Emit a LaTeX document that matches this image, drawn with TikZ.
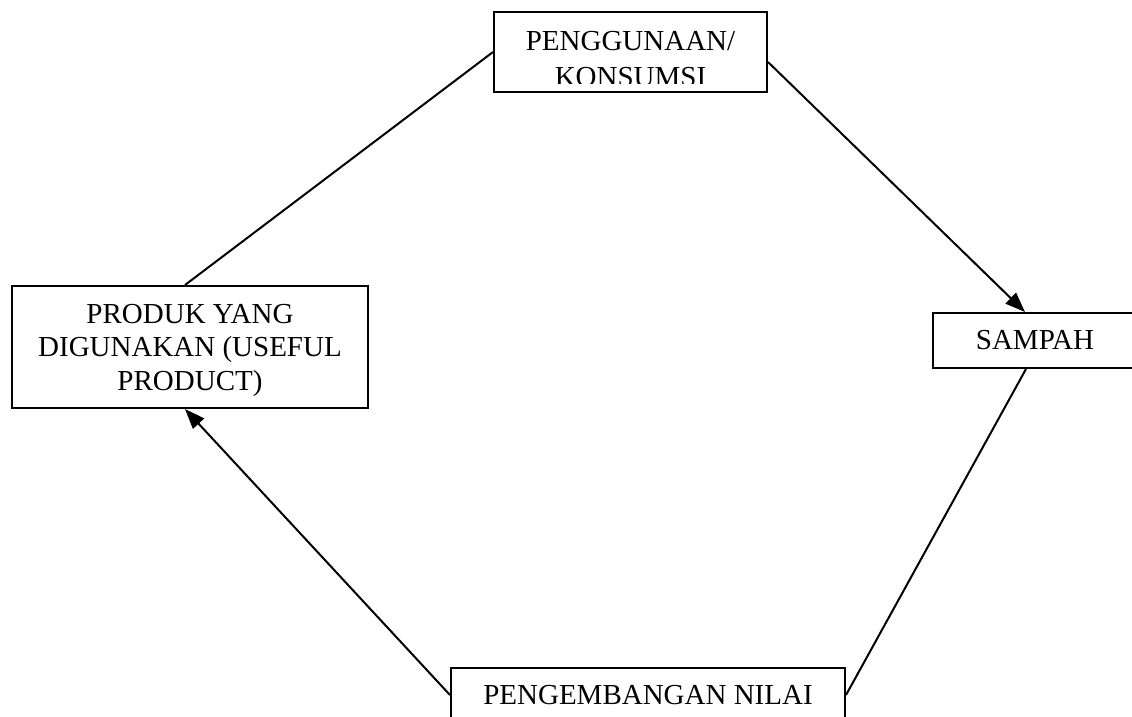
\documentclass[tikz,border=0pt]{standalone}
\usepackage{fontspec}
\setmainfont{Liberation Serif}
\usetikzlibrary{arrows.meta}
\begin{document}
\begin{tikzpicture}[x=1pt,y=-1pt,
  box/.style={draw, line width=2pt, rectangle, inner sep=0pt, align=center,
    font=\fontsize{29}{33.5}\selectfont},
  lbl/.style={inner sep=0pt, font=\fontsize{29}{33.5}\selectfont},
  conn/.style={line width=2pt},
  arr/.style={line width=2pt, -{Triangle[length=20pt,width=15pt]}}]
\useasboundingbox (0,0) rectangle (1132,716);
\clip (0,0) rectangle (1132,716);
% top box (text clipped inside)
\begin{scope}
\clip (494,12) rectangle (767,83);
\node[lbl, anchor=base] (toptext1) at (630.5,50) {PENGGUNAAN/};
\node[lbl, anchor=base] (toptext2) at (630.5,86.5) {KONSUMSI};
\end{scope}
\node[box, minimum width=273pt, minimum height=80pt] (top) at (630.5,52) {};
% left box
\node[box, minimum width=356pt, minimum height=122pt] (left) at (190,347) {};
\node[lbl, align=center] (lefttext) at ([yshift=-3pt]left.center)
  {PRODUK YANG\\DIGUNAKAN (USEFUL\\PRODUCT)};
% right box
\node[box, minimum width=204pt, minimum height=55pt] (sampah) at (1035,340.5) {SAMPAH};
% bottom box
\node[box, minimum width=394pt, minimum height=54pt] (bottom) at (648,695)
  {PENGEMBANGAN NILAI};
% connectors
\draw[conn] ([xshift=-5pt]left.north) -- (top.west);
\draw[arr] ([yshift=-10pt]top.east) -- ([xshift=-10pt]sampah.north);
\draw[conn] ([xshift=-9pt]sampah.south) -- (bottom.east);
\draw[arr] (bottom.west) -- ([xshift=-5pt]left.south);
\end{tikzpicture}
\end{document}
